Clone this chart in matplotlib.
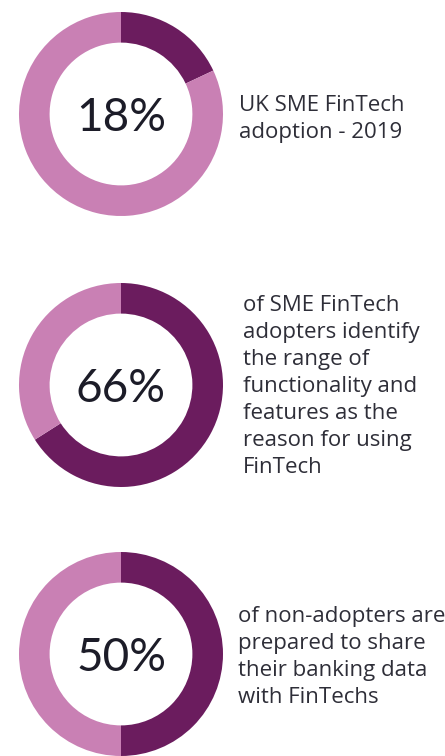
import matplotlib
matplotlib.use("Agg")
import matplotlib.pyplot as plt

# values of the three donuts (share highlighted in dark purple)
shares = [18, 66, 50]
labels = ["18%", "66%", "50%"]
captions = [
    ["UK SME FinTech", "adoption - 2019"],
    ["of SME FinTech", "adopters identify", "the range of", "functionality and",
     "features as the", "reason for using", "FinTech"],
    ["of non-adopters are", "prepared to share", "their banking data", "with FinTechs"],
]

DARK = "#6b1c5e"
LIGHT = "#c980b4"
NUM_COL = "#1c1c28"
TXT_COL = "#2e2e38"

W, H = 445, 756
fig = plt.figure(figsize=(W / 100, H / 100), dpi=100)
fig.patch.set_facecolor("white")

# layout in pixels: donut centre y, caption left x, baseline of the 1st caption line
centres_y = [114, 385, 654]
cap_x = [239, 243, 238]
cap_y = [111, 311, 622]
step = 27
cx, r = 121, 102

for i, share in enumerate(shares):
    cy = centres_y[i]
    ax = fig.add_axes([(cx - r) / W, 1 - (cy + r) / H, 2 * r / W, 2 * r / H])
    ax.pie([share, 100 - share], colors=[DARK, LIGHT], startangle=90,
           counterclock=False, radius=1,
           wedgeprops=dict(width=0.30, edgecolor="none"))
    ax.set_xlim(-1, 1)
    ax.set_ylim(-1, 1)
    ax.set_aspect("equal")
    ax.axis("off")

    fig.text(cx / W, 1 - (cy + 17) / H, labels[i], ha="center", va="baseline",
             fontsize=33, color=NUM_COL, family="Lato")

    for j, line in enumerate(captions[i]):
        fig.text(cap_x[i] / W, 1 - (cap_y[i] + j * step) / H, line, ha="left",
                 va="baseline", fontsize=16, color=TXT_COL, family="Open Sans")

fig.savefig("out.png", dpi=100)
